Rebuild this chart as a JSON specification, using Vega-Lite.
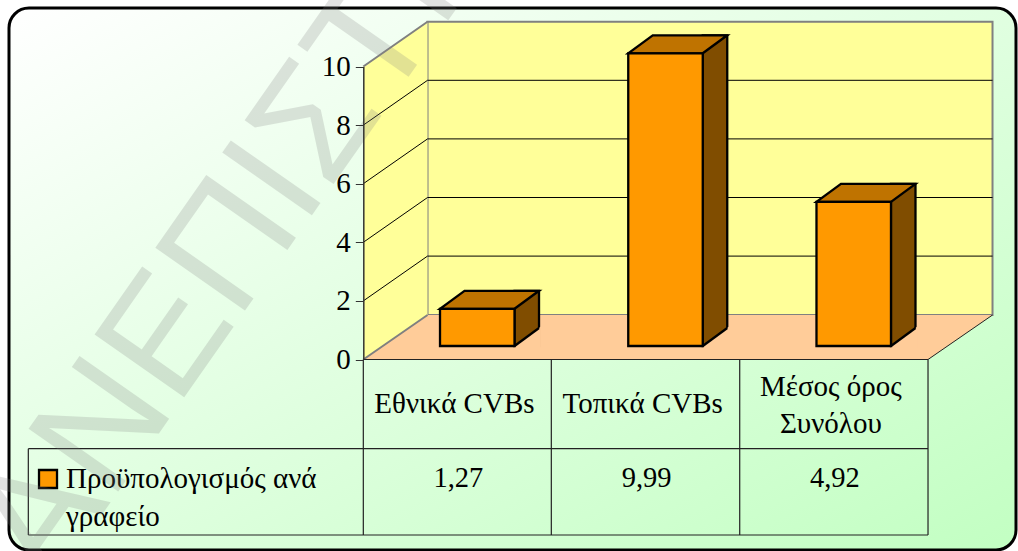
{"$schema":"https://vega.github.io/schema/vega-lite/v6.json","width":1007,"height":542,"autosize":{"type":"none"},"padding":{"left":9,"top":8,"right":2,"bottom":1},"background":"#ffffff","config":{"axis":{"grid":false,"title":null},"locale":{"number":{"decimal":",","thousands":".","grouping":[3],"currency":["","€"]}},"view":{"stroke":"#000000","strokeWidth":3,"cornerRadius":20,"fill":{"gradient":"linear","x1":0,"y1":0,"x2":1,"y2":1,"stops":[{"offset":0,"color":"#ffffff"},{"offset":1,"color":"#c2ffc2"}]}}},"datasets":{"budget":[{"category":"Εθνικά CVBs","value":1.27},{"category":"Τοπικά CVBs","value":9.99},{"category":"Μέσος όρος\nΣυνόλου","value":4.92}],"ticks":[{"tick":2},{"tick":4},{"tick":6},{"tick":8}],"series":[{"series":"Προϋπολογισμός ανά\nγραφείο","mark":"ΑΝΕΠΙΣΤΗΜΙΟ"}]},"layer":[{"data":{"name":"series"},"mark":{"type":"point","shape":"M-29.9,-337.8L535.1,-337.8L535.1,-44.5L-29.9,-44.5Z","size":4,"filled":true,"fill":"#ffff99","stroke":"#808080","strokeWidth":2,"opacity":1},"encoding":{"x":{"datum":"Εθνικά CVBs","type":"nominal","axis":null,"scale":{"type":"band","domain":["Εθνικά CVBs","Τοπικά CVBs","Μέσος όρος\nΣυνόλου"],"range":[354.3,919],"paddingInner":0,"paddingOuter":0}},"y":{"datum":0,"type":"quantitative","title":null,"scale":{"type":"linear","domain":[0,10],"range":[351.5,58.5],"nice":false,"zero":false},"axis":{"values":[0,2,4,6,8,10],"offset":-354.3,"grid":false,"tickSize":8,"tickColor":"#333333","tickWidth":1,"domainColor":"#333333","domainWidth":1.5,"labelFont":"Liberation Serif","labelFontSize":29,"labelColor":"#000000","labelPadding":5,"title":null,"zindex":1,"labelBound":false,"labelOverlap":false}}}},{"data":{"name":"series"},"mark":{"type":"point","shape":"M-94.1,0L-94.1,-293L-29.9,-337.8L-29.9,-44.5Z","size":4,"filled":true,"fill":"#ffff99","strokeWidth":0,"opacity":1},"encoding":{"x":{"datum":"Εθνικά CVBs","type":"nominal"},"y":{"datum":0,"type":"quantitative"}}},{"data":{"name":"series"},"mark":{"type":"point","shape":"M-94.1,0L470.6,0L535.1,-44.5L-29.9,-44.5Z","size":4,"filled":true,"fill":"#ffcc99","strokeWidth":0,"opacity":1},"encoding":{"x":{"datum":"Εθνικά CVBs","type":"nominal"},"y":{"datum":0,"type":"quantitative"}}},{"data":{"name":"series"},"mark":{"type":"point","shape":"M-94.1,0L-29.9,-44.5M-94.1,-293L-29.9,-337.8","size":4,"filled":false,"stroke":"#808080","strokeWidth":2,"opacity":1},"encoding":{"x":{"datum":"Εθνικά CVBs","type":"nominal"},"y":{"datum":0,"type":"quantitative"}}},{"data":{"name":"series"},"mark":{"type":"point","shape":"M470.6,0L535.1,-44.5","size":4,"filled":false,"stroke":"#222222","strokeWidth":1,"opacity":1},"encoding":{"x":{"datum":"Εθνικά CVBs","type":"nominal"},"y":{"datum":0,"type":"quantitative"}}},{"data":{"name":"ticks"},"mark":{"type":"point","shape":"M-94.1,0L-29.9,-44.8L535.1,-44.8","size":4,"filled":false,"stroke":"#000000","strokeWidth":1,"opacity":1},"encoding":{"x":{"datum":"Εθνικά CVBs","type":"nominal"},"y":{"field":"tick","type":"quantitative"}}},{"data":{"name":"budget"},"mark":{"type":"bar","size":24.5,"xOffset":69.35,"yOffset":-31.5,"y2Offset":-13.5,"fill":"#804d00","stroke":"#000000","strokeWidth":2.3},"encoding":{"x":{"field":"category","type":"nominal"},"y":{"field":"value","type":"quantitative","stack":null},"y2":{"datum":0}}},{"data":{"name":"budget"},"mark":{"type":"point","shape":"M57.1,-13.5L81.6,-31.5L83.5,-33L83.5,-11.5L57.1,-11.5Z","size":4,"filled":true,"fill":"#ffcc99","strokeWidth":0,"opacity":1},"encoding":{"x":{"field":"category","type":"nominal"},"y":{"datum":0,"type":"quantitative"}}},{"data":{"name":"budget"},"mark":{"type":"point","shape":"M57.1,-13.5L81.6,-31.5","size":4,"filled":false,"stroke":"#000000","strokeWidth":2.3,"opacity":1},"encoding":{"x":{"field":"category","type":"nominal"},"y":{"datum":0,"type":"quantitative"}}},{"data":{"name":"budget"},"mark":{"type":"point","shape":"M-17.4,-13.5L57.1,-13.5L81.6,-31.5L7.1,-31.5Z","size":4,"filled":true,"fill":"#bf7300","stroke":"#000000","strokeWidth":2.3,"opacity":1},"encoding":{"x":{"field":"category","type":"nominal"},"y":{"field":"value","type":"quantitative"}}},{"data":{"name":"budget"},"mark":{"type":"bar","size":74.5,"xOffset":19.85,"yOffset":-13.5,"y2Offset":-13.5,"fill":"#ff9900","stroke":"#000000","strokeWidth":2.3},"encoding":{"x":{"field":"category","type":"nominal"},"y":{"field":"value","type":"quantitative","stack":null},"y2":{"datum":0}}},{"data":{"name":"series"},"mark":{"type":"point","shape":"M-94.1,0L470.6,0M-94.1,0L-94.1,175.5M93.9,0L93.9,175.5M282.3,0L282.3,175.5M470.6,0L470.6,175.5M-429.1,89.2L470.6,89.2M-429.1,175.5L470.6,175.5M-429.1,89.2L-429.1,175.5","size":4,"filled":false,"stroke":"#222222","strokeWidth":1.2,"opacity":1},"encoding":{"x":{"datum":"Εθνικά CVBs","type":"nominal"},"y":{"datum":0,"type":"quantitative"}}},{"data":{"name":"budget"},"transform":[{"filter":{"field":"category","oneOf":["Εθνικά CVBs","Τοπικά CVBs"]}}],"mark":{"type":"text","font":"Liberation Serif","fontSize":29,"align":"center","baseline":"middle","yOffset":44,"xOffset":-3,"color":"#000000"},"encoding":{"x":{"field":"category","type":"nominal"},"y":{"datum":0,"type":"quantitative"},"text":{"field":"category","type":"nominal"}}},{"data":{"name":"budget"},"transform":[{"filter":{"field":"category","oneOf":["Μέσος όρος\nΣυνόλου"]}}],"mark":{"type":"text","font":"Liberation Serif","fontSize":29,"align":"center","baseline":"middle","lineBreak":"\n","lineHeight":37,"yOffset":27,"xOffset":-3,"color":"#000000"},"encoding":{"x":{"field":"category","type":"nominal"},"y":{"datum":0,"type":"quantitative"},"text":{"field":"category","type":"nominal"}}},{"data":{"name":"budget"},"mark":{"type":"text","font":"Liberation Serif","fontSize":28.5,"align":"center","baseline":"alphabetic","yOffset":127.5,"xOffset":1,"color":"#000000"},"encoding":{"x":{"field":"category","type":"nominal"},"y":{"datum":0,"type":"quantitative"},"text":{"field":"value","type":"quantitative","format":".2f"}}},{"data":{"name":"series"},"mark":{"type":"point","shape":"square","size":324,"filled":true,"fill":"#ff9900","stroke":"#000000","strokeWidth":2.3,"opacity":1,"xOffset":-409.4,"yOffset":119.5},"encoding":{"x":{"datum":"Εθνικά CVBs","type":"nominal"},"y":{"datum":0,"type":"quantitative"}}},{"data":{"name":"series"},"mark":{"type":"text","font":"Liberation Serif","fontSize":29,"align":"left","baseline":"alphabetic","lineBreak":"\n","lineHeight":38,"xOffset":-391.4,"yOffset":128.5,"color":"#000000"},"encoding":{"x":{"datum":"Εθνικά CVBs","type":"nominal"},"y":{"datum":0,"type":"quantitative"},"text":{"field":"series","type":"nominal"}}},{"data":{"name":"series"},"mark":{"type":"text","font":"Liberation Sans","fontSize":159,"align":"left","baseline":"alphabetic","angle":305,"xOffset":-407.4,"yOffset":229.5,"color":"#808080","opacity":0.22},"encoding":{"x":{"datum":"Εθνικά CVBs","type":"nominal"},"y":{"datum":0,"type":"quantitative"},"text":{"field":"mark","type":"nominal"}}}]}
